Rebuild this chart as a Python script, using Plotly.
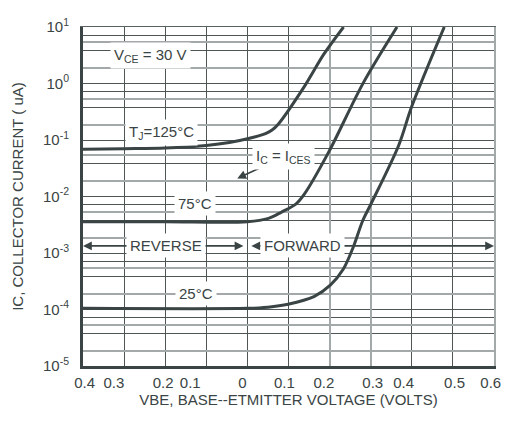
import plotly.graph_objects as go

# ---------------- data (signed VBE: negative = reverse bias) ----------------
v_125 = [-0.4, -0.3, -0.2, -0.1, -0.044, 0.0, 0.044, 0.06, 0.075, 0.138, 0.186, 0.234]
i_125 = [0.0685, 0.070, 0.072, 0.080, 0.090, 0.105, 0.13, 0.15, 0.19, 0.87, 3.3, 10.0]

v_75 = [-0.4, -0.2, 0.0, 0.0513, 0.083, 0.1185, 0.1385, 0.198, 0.281, 0.364]
i_75 = [0.00357, 0.00357, 0.00357, 0.0041, 0.0053, 0.0074, 0.011, 0.0616, 0.996, 10.0]

v_25 = [-0.4, 0.0, 0.05, 0.099, 0.162, 0.2017, 0.2335, 0.257, 0.281, 0.3007, 0.368, 0.400, 0.479]
i_25 = [1.05e-4, 1.05e-4, 1.1e-4, 1.24e-4, 1.69e-4, 2.69e-4, 5.2e-4, 1.24e-3, 3.8e-3, 7.4e-3, 0.080, 0.394, 10.0]

# tick labels (the drawn chart places them slightly off the grid)
x_tick_pos = [-0.396, -0.325, -0.205, -0.139, -0.012, 0.090, 0.186, 0.305, 0.380, 0.504, 0.592]
x_tick_text = ["0.4", "0.3", "0.2", "0.1", "0", "0.1", "0.2", "0.3", "0.4", "0.5", "0.6"]

y_decades = [1e-5, 1e-4, 1e-3, 1e-2, 1e-1, 1e0, 1e1]
y_tick_text = ["10<sup>-5</sup>", "10<sup>-4</sup>", "10<sup>-3</sup>", "10<sup>-2</sup>",
               "10<sup>-1</sup>", "10<sup>0</sup>", "10<sup>1</sup>"]

# grid lines
x_grid_dark = [-0.4, -0.3, -0.2, -0.1, 0.0, 0.1, 0.4, 0.5]
x_grid_gray = [0.2, 0.3]
minor_dark = [3.8, 7.2]
minor_gray = [1.86, 5.4]

# ---------------- style ----------------
INK = "#3a4444"
GRID_DARK = "#4d5555"
GRID_GRAY = "#a3a8a8"
FONT = "Liberation Sans, Arial, sans-serif"
FS = 15

y_grid_dark = list(y_decades)
y_grid_gray = []
for d in y_decades[:-1]:
    y_grid_dark += [m * d for m in minor_dark]
    y_grid_gray += [m * d for m in minor_gray]
y_dark_text = [y_tick_text[y_decades.index(t)] if t in y_decades else "" for t in y_grid_dark]

fig = go.Figure()
for v, i in [(v_125, i_125), (v_75, i_75), (v_25, i_25)]:
    fig.add_trace(go.Scatter(x=v, y=i, mode="lines",
                             line=dict(color=INK, width=3, shape="spline", smoothing=0.9),
                             showlegend=False, hoverinfo="skip"))

# invisible traces to activate overlay axes
fig.add_trace(go.Scatter(x=[0], y=[1], xaxis="x2", yaxis="y2", mode="markers",
                         marker=dict(opacity=0), showlegend=False, hoverinfo="skip"))
fig.add_trace(go.Scatter(x=[0], y=[1], xaxis="x3", yaxis="y", mode="markers",
                         marker=dict(opacity=0), showlegend=False, hoverinfo="skip"))

XR = [-0.4, 0.6]
YR = [-5, 1]

fig.update_layout(
    # the page body keeps its default 8px margin: the figure is sized so the page
    # fits the 509x425 window exactly, and the margins place the plot area as in the reference
    width=501, height=409,
    margin=dict(l=72, r=8, t=11, b=51),
    paper_bgcolor="white", plot_bgcolor="white",
    font=dict(family=FONT, size=FS, color=INK),
    xaxis=dict(range=XR, tickmode="array", tickvals=x_grid_dark, showticklabels=False,
               showgrid=True, gridcolor=GRID_DARK, gridwidth=1.2, zeroline=False,
               showline=True, linecolor=INK, linewidth=3, ticks="",
               title=dict(text="VBE, BASE--ETMITTER VOLTAGE (VOLTS)", standoff=27,
                          font=dict(size=FS))),
    xaxis2=dict(range=XR, overlaying="x", tickmode="array", tickvals=x_grid_gray,
                showticklabels=False, showgrid=True, gridcolor=GRID_GRAY, gridwidth=1.5,
                zeroline=False, showline=True, linecolor="#5a6262", linewidth=1.2,
                ticks="", side="top"),
    xaxis3=dict(range=XR, overlaying="x", tickmode="array", tickvals=x_tick_pos,
                ticktext=x_tick_text, showgrid=False, zeroline=False, showline=False,
                ticks="", side="bottom", ticklabelstandoff=6, ticklabeloverflow="allow",
                tickfont=dict(size=FS)),
    yaxis=dict(type="log", range=YR, tickmode="array", tickvals=y_grid_dark,
               ticktext=y_dark_text, ticklabeloverflow="allow",
               showgrid=True, gridcolor=GRID_DARK, gridwidth=1.2, zeroline=False,
               showline=True, linecolor=INK, linewidth=3, ticks="", ticklabelstandoff=8,
               tickfont=dict(size=FS),
               title=dict(text="IC, COLLECTOR CURRENT ( uA)", standoff=16, font=dict(size=FS))),
    yaxis2=dict(type="log", range=YR, overlaying="y", tickmode="array",
                tickvals=y_grid_gray, showticklabels=False, showgrid=True,
                gridcolor=GRID_GRAY, gridwidth=1.5, zeroline=False, showline=True,
                linecolor=GRID_GRAY, linewidth=2, ticks="", side="right"),
)

Y_ARROW = -2.874
ann = []
# double-headed reverse / forward arrows
ann.append(dict(x=-0.4, y=Y_ARROW, ax=-0.006, ay=Y_ARROW, xref="x", yref="y", axref="x", ayref="y",
                text="", showarrow=True, arrowhead=2, startarrowhead=2, arrowside="end+start",
                arrowsize=1.1, arrowwidth=1.6, arrowcolor=INK))
ann.append(dict(x=0.6, y=Y_ARROW, ax=0.006, ay=Y_ARROW, xref="x", yref="y", axref="x", ayref="y",
                text="", showarrow=True, arrowhead=2, startarrowhead=2, arrowside="end+start",
                arrowsize=1.1, arrowwidth=1.6, arrowcolor=INK))
# I_C = I_CES pointer
ann.append(dict(x=-0.0247, y=-1.682, ax=0.0323, ay=-1.487, xref="x", yref="y", axref="x", ayref="y",
                text="", showarrow=True, arrowhead=2, arrowsize=1.1, arrowwidth=1.6, arrowcolor=INK))

labels = [
    ("V<sub>CE</sub> = 30 V", -0.236, 0.494),
    ("T<sub>J</sub>=125°C", -0.208, -0.870),
    ("75°C", -0.127, -2.131),
    ("25°C", -0.1245, -3.720),
    ("REVERSE", -0.198, Y_ARROW),
    ("FORWARD", 0.134, Y_ARROW),
    ("I<sub>C</sub> = I<sub>CES</sub>", 0.087, -1.285),
]
for t, x, y in labels:
    ann.append(dict(x=x, y=y, xref="x", yref="y", text=t, showarrow=False,
                    bgcolor="white", borderpad=3, font=dict(size=FS, color=INK)))

fig.update_layout(annotations=ann)

fig.write_html("out.html")
